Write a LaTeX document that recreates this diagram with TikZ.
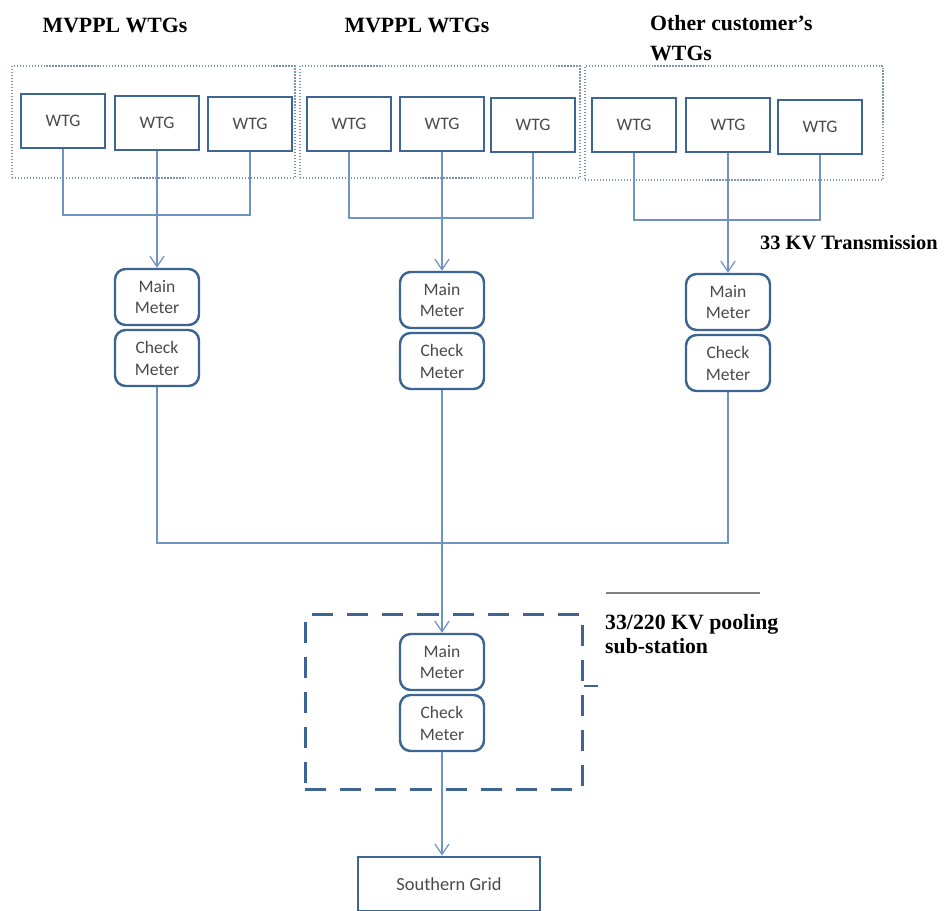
\documentclass[tikz,border=0pt]{standalone}
\usepackage{fontspec}
\setmainfont{Liberation Serif}
\newfontfamily\boxfont{Carlito}
\usetikzlibrary{arrows.meta,calc}
\definecolor{boxblue}{HTML}{3D6593}
\definecolor{linkblue}{HTML}{6F93C2}
\definecolor{grpgray}{HTML}{8094AC}
\definecolor{txtgray}{HTML}{4A4A4A}
\tikzset{
  wtg/.style={draw=boxblue, line width=1.6pt, minimum width=1.68cm, minimum height=1.08cm, inner sep=0pt,
    font=\boxfont\fontsize{10}{12}\selectfont, text=txtgray},
  meter/.style={draw=boxblue, line width=1.4pt, rounded corners=6pt, minimum width=1.68cm, minimum height=1.12cm,
    inner sep=0pt, align=center, font=\boxfont\fontsize{10}{12.5}\selectfont, text=txtgray},
  grp/.style={draw=grpgray, line width=0.7pt, densely dotted, minimum width=#1, minimum height=2.24cm, inner sep=0pt},
  conn/.style={draw=linkblue, line width=0.7pt},
  arr/.style={conn, -{Straight Barb[length=6pt,width=8pt]}},
  title/.style={font=\bfseries\fontsize{12.4}{17}\selectfont, text=black},
}
\begin{document}
\begin{tikzpicture}[x=0.02cm,y=-0.02cm]
\useasboundingbox (0,0) rectangle (947,910);

% titles
\node[title] (t1) at (115,25) {MVPPL WTGs};
\node[title] (t2) at (417,25) {MVPPL WTGs};
\node[title, anchor=north west, align=left] (t3) at (644,9) {Other customer’s\\WTGs};

% group boxes
\node[grp=5.66cm] (g1) at (153.5,122) {};
\node[grp=5.60cm] (g2) at (440,122) {};
\node[grp=5.96cm, minimum height=2.28cm] (g3) at (734,123) {};

% WTGs
\node[wtg] (w1a) at (63,121) {WTG};
\node[wtg] (w1b) at (157,123) {WTG};
\node[wtg] (w1c) at (250,124) {WTG};
\node[wtg] (w2a) at (349,124) {WTG};
\node[wtg] (w2b) at (442,124) {WTG};
\node[wtg] (w2c) at (533,125) {WTG};
\node[wtg] (w3a) at (634,125) {WTG};
\node[wtg] (w3b) at (728,125) {WTG};
\node[wtg] (w3c) at (820,127) {WTG};

% meters
\node[meter] (m1) at (157,297) {Main\\Meter};
\node[meter] (c1) at (157,358) {Check\\Meter};
\node[meter] (m2) at (442,300) {Main\\Meter};
\node[meter] (c2) at (442,361) {Check\\Meter};
\node[meter] (m3) at (728,302) {Main\\Meter};
\node[meter] (c3) at (728,363) {Check\\Meter};

% pooling substation
\node[draw=boxblue, line width=1.7pt, dash pattern=on 12pt off 8pt, minimum width=5.56cm, minimum height=3.5cm] (pool) at (444,702) {};
\node[meter] (m4) at (442,662) {Main\\Meter};
\node[meter] (c4) at (442,723) {Check\\Meter};

% southern grid
\node[wtg, minimum width=3.64cm, font=\boxfont\fontsize{10.5}{12}\selectfont] (sg) at (449,884) {Southern Grid};

% buses
\coordinate (b1) at (157,215);
\coordinate (b2) at (442,218);
\coordinate (b3) at (728,220);
\coordinate (bm) at (442,543);

\draw[conn] (w1a.south) |- (b1) -| (w1c.south);
\draw[arr] (w1b.south) -- (m1.north);
\draw[conn] (w2a.south) |- (b2) -| (w2c.south);
\draw[arr] (w2b.south) -- (m2.north);
\draw[conn] (w3a.south) |- (b3) -| (w3c.south);
\draw[arr] (w3b.south) -- (m3.north);

\draw[conn] (c1.south) |- (bm) -| (c3.south);
\draw[arr] (c2.south) -- (m4.north);
\draw[arr] (c4.south) -- (c4.south |- sg.north);

% labels
\node[title, anchor=west, font=\bfseries\fontsize{11.6}{14}\selectfont] (l1) at (754,243) {33 KV Transmission};
\node[title, anchor=north west, align=left, font=\bfseries\fontsize{12.4}{13.6}\selectfont] (l2) at (599,608) {33/220 KV pooling\\sub-station};
\coordinate (u1) at (606,593);
\coordinate (u2) at (760,593);
\draw[gray, line width=0.6pt] (u1) -- (u2);
\draw[boxblue, line width=1.2pt] ([yshift=0.32cm]pool.east) -- ++(14,0);
\end{tikzpicture}
\end{document}
